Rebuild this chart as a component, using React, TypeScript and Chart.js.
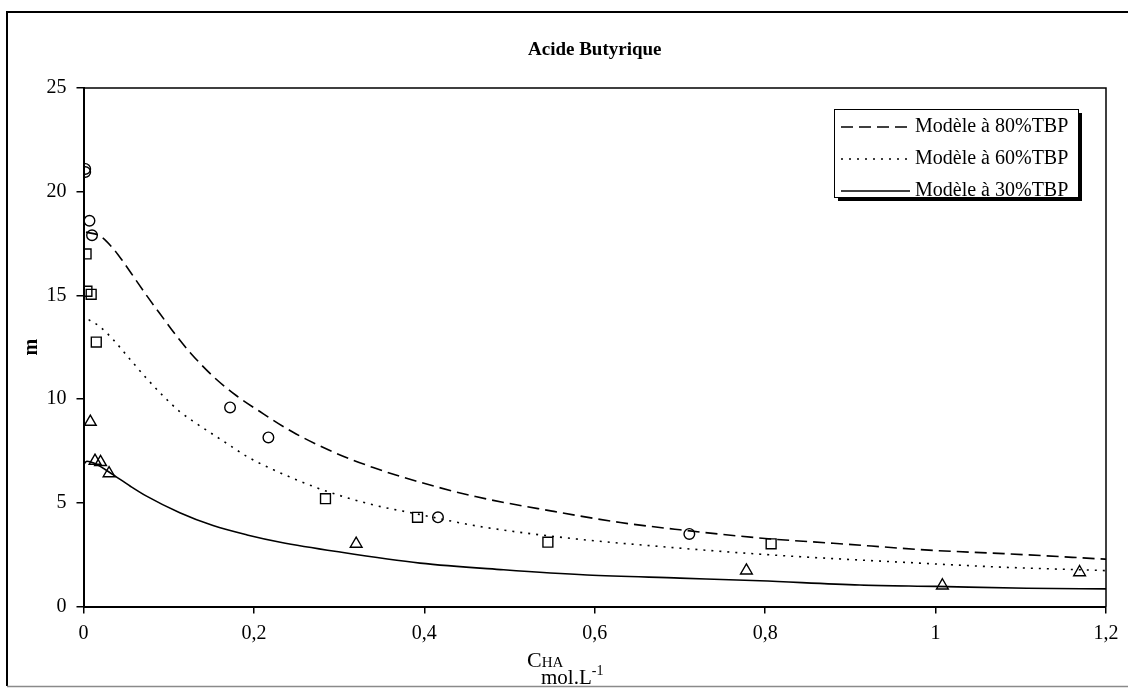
import React, { useEffect, useRef } from "react";
import { Chart, registerables } from "chart.js";

Chart.register(...registerables);

// ---------- texts ----------
const TITLE = "Acide Butyrique";
const Y_TITLE = "m";
const X_TITLE_MAIN = "C";
const X_TITLE_SUB = "HA";
const X_UNIT = "mol.L";
const X_UNIT_SUP = "-1";

// ---------- ticks ----------
const xTicks = [0, 0.2, 0.4, 0.6, 0.8, 1, 1.2];
const yTicks = [0, 5, 10, 15, 20, 25];

// ---------- model curves ----------
const model80Label = "Modèle à 80%TBP";
const model80X = [0.003, 0.02, 0.035, 0.047, 0.058, 0.074, 0.09, 0.109, 0.125, 0.152, 0.18, 0.207, 0.246, 0.293, 0.34, 0.39, 0.46, 0.55, 0.63, 0.7, 0.8, 0.88, 1.0, 1.08, 1.2];
const model80Y = [18.05, 17.85, 17.25, 16.6, 15.95, 15.0, 14.1, 13.05, 12.25, 11.1, 10.15, 9.4, 8.4, 7.45, 6.7, 6.05, 5.3, 4.6, 4.05, 3.7, 3.28, 3.05, 2.7, 2.55, 2.28];

const model60Label = "Modèle à 60%TBP";
const model60X = [0.006, 0.019, 0.035, 0.055, 0.074, 0.094, 0.113, 0.128, 0.165, 0.192, 0.223, 0.281, 0.34, 0.387, 0.465, 0.571, 0.68, 0.806, 0.982, 1.076, 1.2];
const model60Y = [13.83, 13.5, 12.86, 11.9, 11.0, 10.13, 9.4, 8.95, 7.95, 7.23, 6.59, 5.62, 4.9, 4.5, 3.86, 3.29, 2.88, 2.49, 2.09, 1.9, 1.73];

const model30Label = "Modèle à 30%TBP";
const model30X = [0, 0.004, 0.012, 0.035, 0.055, 0.074, 0.113, 0.152, 0.192, 0.231, 0.297, 0.395, 0.493, 0.591, 0.7, 0.794, 0.911, 1.0, 1.107, 1.2];
const model30Y = [6.85, 7.0, 6.92, 6.35, 5.8, 5.32, 4.52, 3.9, 3.45, 3.1, 2.65, 2.09, 1.77, 1.52, 1.37, 1.24, 1.04, 0.97, 0.88, 0.85];

// ---------- experimental points ----------
const exp80Label = "Exp. 80%TBP";
const exp80X = [0.002, 0.002, 0.007, 0.01, 0.172, 0.217, 0.416, 0.711];
const exp80Y = [21.1, 20.95, 18.6, 17.9, 9.6, 8.15, 4.3, 3.5];

const exp60Label = "Exp. 60%TBP";
const exp60X = [0.003, 0.004, 0.009, 0.015, 0.284, 0.392, 0.545, 0.807];
const exp60Y = [17.0, 15.2, 15.05, 12.75, 5.2, 4.3, 3.1, 3.02];

const exp30Label = "Exp. 30%TBP";
const exp30X = [0.008, 0.0135, 0.02, 0.03, 0.32, 0.778, 1.008, 1.169];
const exp30Y = [8.9, 7.02, 6.96, 6.42, 3.02, 1.73, 1.01, 1.65];

const FONT = "'Liberation Serif', 'Times New Roman', serif";

const pts = (xs: number[], ys: number[]) => xs.map((x, i) => ({ x, y: ys[i] }));
const fmt = (v: number) => String(Number(v.toFixed(1))).replace(".", ",");

const decorPlugin = {
  id: "decor",
  beforeDraw(chart: any) {
    const ctx = chart.ctx;
    ctx.save();
    ctx.fillStyle = "#ffffff";
    ctx.fillRect(0, 0, chart.width, chart.height);
    ctx.restore();
  },
  afterDraw(chart: any) {
    const ctx: CanvasRenderingContext2D = chart.ctx;
    const a = chart.chartArea;
    ctx.save();
    // outer frame
    ctx.strokeStyle = "#000";
    ctx.lineWidth = 2;
    ctx.beginPath();
    ctx.moveTo(chart.width + 2, 12);
    ctx.lineTo(7, 12);
    ctx.lineTo(7, 686);
    ctx.stroke();
    ctx.strokeStyle = "#8a8a8a";
    ctx.lineWidth = 1.5;
    ctx.beginPath();
    ctx.moveTo(7, 686.5);
    ctx.lineTo(chart.width + 2, 686.5);
    ctx.stroke();

    // plot area top / right border
    ctx.strokeStyle = "#000";
    ctx.lineWidth = 1.5;
    ctx.beginPath();
    ctx.moveTo(a.left, a.top);
    ctx.lineTo(a.right, a.top);
    ctx.lineTo(a.right, a.bottom);
    ctx.stroke();

    // title
    ctx.fillStyle = "#000";
    ctx.font = `bold 19px ${FONT}`;
    ctx.textAlign = "center";
    ctx.textBaseline = "middle";
    ctx.fillText(TITLE, (a.left + a.right) / 2, 50);

    // y title
    ctx.save();
    ctx.translate(32, (a.top + a.bottom) / 2);
    ctx.rotate(-Math.PI / 2);
    ctx.font = `bold 20px ${FONT}`;
    ctx.textAlign = "center";
    ctx.textBaseline = "middle";
    ctx.fillText(Y_TITLE, 0, 0);
    ctx.restore();

    // x title
    ctx.textAlign = "left";
    ctx.textBaseline = "alphabetic";
    let x = 527;
    ctx.font = `22px ${FONT}`;
    ctx.fillText(X_TITLE_MAIN, x, 667);
    x += ctx.measureText(X_TITLE_MAIN).width;
    ctx.font = `15px ${FONT}`;
    ctx.fillText(X_TITLE_SUB, x, 667);
    let u = 541;
    ctx.font = `21px ${FONT}`;
    ctx.fillText(X_UNIT, u, 684);
    u += ctx.measureText(X_UNIT).width;
    ctx.font = `14px ${FONT}`;
    ctx.fillText(X_UNIT_SUP, u, 675);

    // legend
    const lx = 834, ly = 109, lw = 244, lh = 88;
    ctx.fillStyle = "#000";
    ctx.fillRect(lx + 4, ly + 4, lw, lh);
    ctx.fillStyle = "#fff";
    ctx.fillRect(lx, ly, lw, lh);
    ctx.strokeStyle = "#000";
    ctx.lineWidth = 1;
    ctx.strokeRect(lx + 0.5, ly + 0.5, lw, lh);
    const items = chart.data.datasets.filter((d: any) => d.isModel);
    items.forEach((d: any, i: number) => {
      const yy = 127 + i * 32;
      ctx.strokeStyle = "#000";
      ctx.lineWidth = 1.6;
      ctx.setLineDash(d.borderDash || []);
      ctx.beginPath();
      ctx.moveTo(841, yy);
      ctx.lineTo(910, yy);
      ctx.stroke();
      ctx.setLineDash([]);
      ctx.fillStyle = "#000";
      ctx.font = `20px ${FONT}`;
      ctx.textAlign = "left";
      ctx.textBaseline = "middle";
      ctx.fillText(d.label, 915, yy);
    });
    ctx.restore();
  },
};

export default function App() {
  const ref = useRef<HTMLCanvasElement | null>(null);
  useEffect(() => {
    if (!ref.current) return;
    const lineDs = (label: string, xs: number[], ys: number[], dash: number[]) => ({
      label,
      isModel: true,
      data: pts(xs, ys),
      showLine: true,
      borderColor: "#000",
      backgroundColor: "#000",
      borderWidth: 1.6,
      borderDash: dash,
      pointRadius: 0,
      cubicInterpolationMode: "monotone",
      fill: false,
    });
    const ptDs = (label: string, xs: number[], ys: number[], style: string, r: number) => ({
      label,
      isModel: false,
      data: pts(xs, ys),
      showLine: false,
      pointStyle: style,
      pointRadius: r,
      pointBorderWidth: 1.4,
      pointBorderColor: "#000",
      pointBackgroundColor: "rgba(255,255,255,0)",
      borderColor: "#000",
      backgroundColor: "rgba(255,255,255,0)",
    });
    const chart = new Chart(ref.current, {
      type: "scatter",
      data: {
        datasets: [
          lineDs(model80Label, model80X, model80Y, [12, 6]),
          lineDs(model60Label, model60X, model60Y, [2, 6]),
          lineDs(model30Label, model30X, model30Y, []),
          ptDs(exp80Label, exp80X, exp80Y, "circle", 5.3),
          ptDs(exp60Label, exp60X, exp60Y, "rect", 7),
          ptDs(exp30Label, exp30X, exp30Y, "triangle", 6.8),
        ] as any,
      },
      options: {
        responsive: false,
        maintainAspectRatio: false,
        animation: false,
        devicePixelRatio: 1,
        layout: { padding: { left: 0, top: 88, right: 22, bottom: 0 } },
        plugins: {
          legend: { display: false },
          tooltip: { enabled: false },
          title: { display: false },
        },
        scales: {
          x: {
            type: "linear",
            min: 0,
            max: 1.2,
            afterBuildTicks: (s: any) => {
              s.ticks = xTicks.map((v) => ({ value: v }));
            },
            afterFit: (s: any) => {
              s.height = 81.5;
            },
            grid: {
              display: true,
              drawOnChartArea: false,
              drawTicks: true,
              tickLength: 7,
              color: "#000",
              lineWidth: 1.5,
            },
            border: { display: true, color: "#000", width: 2 },
            ticks: {
              color: "#000",
              font: { family: FONT, size: 20 },
              padding: 8,
              maxRotation: 0,
              autoSkip: false,
              callback: (v: any) => fmt(Number(v)),
            },
          },
          y: {
            type: "linear",
            min: 0,
            max: 25,
            afterBuildTicks: (s: any) => {
              s.ticks = yTicks.map((v) => ({ value: v }));
            },
            afterFit: (s: any) => {
              s.width = 83.5;
            },
            grid: {
              display: true,
              drawOnChartArea: false,
              drawTicks: true,
              tickLength: 7,
              color: "#000",
              lineWidth: 1.5,
            },
            border: { display: true, color: "#000", width: 2 },
            ticks: {
              color: "#000",
              font: { family: FONT, size: 20 },
              padding: 10,
              autoSkip: false,
              callback: (v: any) => fmt(Number(v)),
            },
          },
        },
      } as any,
      plugins: [decorPlugin],
    });
    return () => chart.destroy();
  }, []);
  return (
    <div style={{ position: "fixed", left: 0, top: 0, width: 1128, height: 688, background: "#fff" }}>
      <canvas ref={ref} width={1128} height={688} style={{ display: "block", width: 1128, height: 688 }} />
    </div>
  );
}
